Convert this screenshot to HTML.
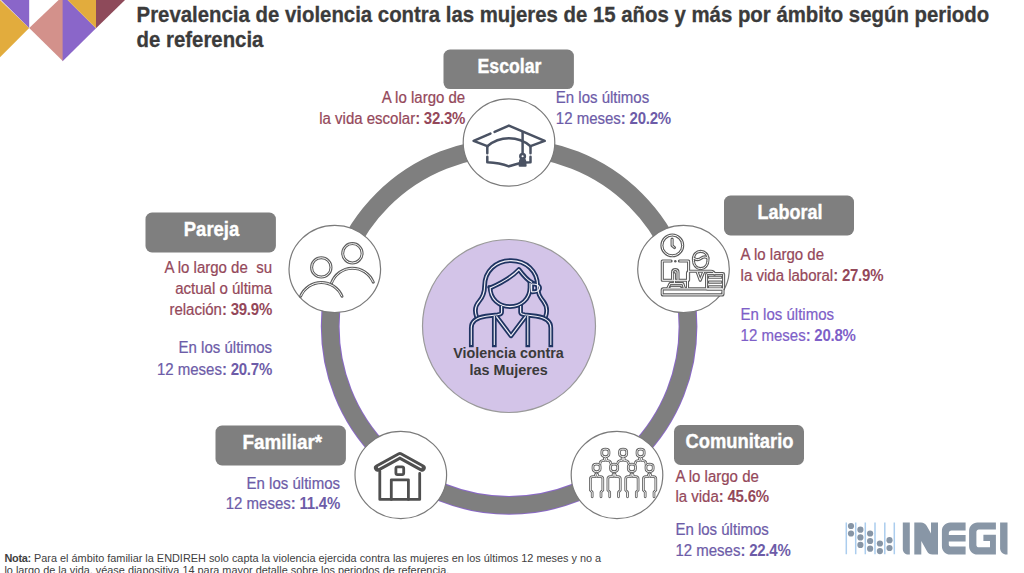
<!DOCTYPE html>
<html><head><meta charset="utf-8">
<style>
html,body{margin:0;padding:0;background:#fff;width:1024px;height:573px;overflow:hidden}
svg{display:block;font-family:"Liberation Sans",sans-serif}
.t{font-family:"Liberation Sans",sans-serif}
.m{fill:#94485a;stroke:#94485a;stroke-width:0.22px;font-size:15.8px}
.p{fill:#6d5ca8;stroke:#6d5ca8;stroke-width:0.22px;font-size:15.8px}
.pv{fill:#7e5fc8;stroke:#7e5fc8;stroke-width:0.22px;font-size:15.8px}
.lab{fill:#fff;stroke:#fff;stroke-width:0.35px;font-size:19.5px;font-weight:bold}
.b{font-weight:bold;stroke-width:0;letter-spacing:-0.25px}
</style></head>
<body>
<svg width="1024" height="573" viewBox="0 0 1024 573">
<!-- top-left triangles -->
<polygon points="0,0 29.2,28.1 0,57.2" fill="#e2ac3d"/>
<polygon points="1,0 29.2,0 29.2,28.1" fill="#8a66c9"/>
<polygon points="29.2,28.1 58.6,0 63,0 63,61.2" fill="#d3918b"/>
<polygon points="62.6,0 67.6,0 96,28.3 62.6,61.2" fill="#8a66c9"/>
<polygon points="67.6,0 96,0 96,28.3" fill="#e2ac3d"/>
<polygon points="96,0 125,0 96,28.3" fill="#8e4a5a"/>

<!-- title -->
<text class="t" x="136.6" y="21.5" font-size="21.5" font-weight="bold" fill="#3b3b3b" stroke="#3b3b3b" stroke-width="0.3" textLength="852.6" lengthAdjust="spacingAndGlyphs">Prevalencia de violencia contra las mujeres de 15 años y más por ámbito según periodo</text>
<text class="t" x="136.6" y="47.3" font-size="21.5" font-weight="bold" fill="#3b3b3b" stroke="#3b3b3b" stroke-width="0.3" textLength="126.8" lengthAdjust="spacingAndGlyphs">de referencia</text>

<!-- ring -->
<defs>
<clipPath id="lowc"><rect x="0" y="269" width="1024" height="304"/></clipPath>
<clipPath id="upc"><rect x="0" y="0" width="1024" height="269"/></clipPath>
</defs>
<circle cx="509.1" cy="326.5" r="178.9" fill="none" stroke="#8a68c8" stroke-width="18.8" clip-path="url(#lowc)"/>
<circle cx="509.1" cy="326.5" r="178.9" fill="none" stroke="#7f7f7f" stroke-width="16.8"/>
<circle cx="509.1" cy="326.5" r="178.9" fill="none" stroke="#7f7f7f" stroke-width="18.4" clip-path="url(#upc)"/>

<!-- center circle -->
<circle cx="509" cy="326" r="86.5" fill="#d3c4e8" stroke="#9a9a9a" stroke-width="1.2"/>

<!-- small circles -->
<g fill="#fff" stroke="#7a7a7a" stroke-width="1.2">
<ellipse cx="509" cy="142.5" rx="45.8" ry="43.6"/>
<ellipse cx="683.5" cy="269" rx="45.8" ry="43.6"/>
<ellipse cx="334.8" cy="269" rx="45.8" ry="43.6"/>
<ellipse cx="400.8" cy="475" rx="45.8" ry="43.6"/>
<ellipse cx="617" cy="475" rx="45.8" ry="43.6"/>
</g>


<!-- ===== ICONS ===== -->
<!-- Escolar cap -->
<g fill="none" stroke="#4a5263" stroke-width="2.5" stroke-linecap="round" stroke-linejoin="round">
<path d="M487.3,146.2 L473.6,140.9 L490.4,133.6 M494.6,131.9 L508.9,125.6 L544.7,140.9 L530.5,146.2"/>
<path d="M487.3,146.2 C494,140.5 502,138.2 508.9,138.2 C516,138.2 524,140.5 530.5,146.2"/>
<path d="M487.3,146.2 L487.3,153.2 M487.3,156.8 L487.3,162.2 C495,162.5 503,164 508.9,166.4 C512.5,165.2 516,163.9 519.6,163.2"/>
<path d="M525.8,162.6 L530.5,162.2 L530.5,156.8 M530.5,153.2 L530.5,146.2"/>
<path d="M522.6,132.6 L522.6,153.4"/>
<circle cx="522.6" cy="156.3" r="2.3"/>
<path d="M520.4,160.2 L524.8,160.2 L525.4,165.6 L519.8,165.6 Z" fill="#4a5263"/>
</g>

<!-- Woman icon -->
<g fill="none" stroke-linejoin="round">
<g stroke="#1f3462" stroke-width="4.7" stroke-linecap="square" id="wdark">
<path d="M476.5,316.5 C474.5,311 475,306 479,301.5 C483,297 484.6,293.5 484.6,286 C484.6,271 496,260.6 511,260.6 C526,260.6 537.6,271 537.6,286 C537.6,293.5 540,297 543.5,301.5 C547,306 547.5,311 545.6,316.5"/>
<path d="M490.1,287.5 C490.1,299 499,306.6 510,306.6 C521,306.6 530,299 530,287.5 L530,283"/>
<path d="M490.1,288 C498,284.5 511.5,277.5 518.9,269.5 C523,275 527,280 532,282.6"/>
<path d="M531.6,284 L531.6,291.8 C536.5,292 539.6,290.5 539.6,288 C539.6,285.5 536.5,283.8 531.6,284 Z"/>
<path d="M501.6,306 L501.6,312.3 C501.6,314 500,314.4 497.5,314.8 L486,316.2 C477,317.5 471.3,321 471.3,328 L471.3,345"/>
<path d="M520.6,306 L520.6,312.3 C520.6,314 522.2,314.4 524.7,314.8 L536.2,316.2 C545.2,317.5 550.8,321 550.8,328 L550.8,345"/>
<path d="M494.3,316 L494.3,345 M527.8,316 L527.8,345"/>
<path d="M496.4,316.4 L511,335.8 L525.7,316.4"/>
</g>
<g stroke="#f4f2f8" stroke-width="1.15" stroke-linecap="butt">
<path d="M476.5,316.5 C474.5,311 475,306 479,301.5 C483,297 484.6,293.5 484.6,286 C484.6,271 496,260.6 511,260.6 C526,260.6 537.6,271 537.6,286 C537.6,293.5 540,297 543.5,301.5 C547,306 547.5,311 545.6,316.5"/>
<path d="M490.1,287.5 C490.1,299 499,306.6 510,306.6 C521,306.6 530,299 530,287.5 L530,283"/>
<path d="M490.1,288 C498,284.5 511.5,277.5 518.9,269.5 C523,275 527,280 532,282.6"/>
<path d="M531.6,284 L531.6,291.8 C536.5,292 539.6,290.5 539.6,288 C539.6,285.5 536.5,283.8 531.6,284 Z"/>
<path d="M501.6,306 L501.6,312.3 C501.6,314 500,314.4 497.5,314.8 L486,316.2 C477,317.5 471.3,321 471.3,328 L471.3,345"/>
<path d="M520.6,306 L520.6,312.3 C520.6,314 522.2,314.4 524.7,314.8 L536.2,316.2 C545.2,317.5 550.8,321 550.8,328 L550.8,345"/>
<path d="M494.3,316 L494.3,345 M527.8,316 L527.8,345"/>
<path d="M496.4,316.4 L511,335.8 L525.7,316.4"/>
</g>
</g>

<!-- Pareja icon -->
<g fill="none">
<g stroke="#5e5e5e" stroke-width="3" stroke-linecap="round">
<circle cx="321.3" cy="267.4" r="9.7"/>
<circle cx="352.4" cy="253.3" r="9.7"/>
<path d="M331.4,283.2 A22.4,22.4 0 0 1 373.3,282.2"/>
<path d="M300.6,296.3 A22.4,22.4 0 0 1 342,296.3"/>
</g>
<g stroke="#fff" stroke-width="0.95">
<circle cx="321.3" cy="267.4" r="9.7"/>
<circle cx="352.4" cy="253.3" r="9.7"/>
<path d="M331.4,283.2 A22.4,22.4 0 0 1 373.3,282.2"/>
<path d="M300.6,296.3 A22.4,22.4 0 0 1 342,296.3"/>
</g>
</g>

<!-- Familiar house -->
<g fill="none" stroke="#4f4f4f" stroke-width="2.8" stroke-linejoin="round" stroke-linecap="round">
<path d="M379.8,471 L379.8,499.4 L419.7,499.4 L419.7,473.4"/>
<path d="M391.3,499.4 L391.3,479.8 L408.4,479.8 L408.4,499.4"/>
<rect x="395.9" y="466.8" width="7.8" height="7.8" rx="1.6"/>
<path d="M377.6,468 L399.9,455.7 L422.1,468" stroke-width="7.3"/>
</g>
<path d="M378.1,467.7 L399.9,455.6 L421.6,467.7" fill="none" stroke="#fff" stroke-width="1.4" stroke-linejoin="round"/>

<!-- Laboral icon -->
<g fill="none" stroke-linejoin="round" stroke-linecap="round">
<g stroke="#5c5c5c" stroke-width="3.1">
<circle cx="672.3" cy="245.4" r="10.4"/>
<path d="M672.1,239 L672.1,245.6 L674.5,247.6"/>
<path d="M671.1,261 L662.3,261 L662.3,280.3 L688.6,280.3 L688.6,261 L679.4,261"/>
<path d="M672.6,279.8 L672.6,272.2 C672.6,270.5 673.8,269.6 675.3,269.6 C676.8,269.6 678,270.5 678,272.2 L678,279.8"/>
<path d="M674.4,273.5 L674.4,283"/>
<path d="M667.8,288.2 L670,283.6 L682.8,283.6 L684.3,288.2"/>
<path d="M670.6,287.4 L680.4,287.4"/>
<rect x="662.2" y="288.9" width="60.8" height="6" rx="1"/>
<path d="M693.4,259.5 C693.4,254.5 696.5,251.4 700.7,251.4 C704.9,251.4 708,254.5 708,259.5 C708,265 705,268.6 700.7,268.6 C696.4,268.6 693.4,265 693.4,259.5 Z"/>
<path d="M694.2,258.4 C696.5,260 699,260 701.2,258.2 C703.2,256.6 705.6,256.6 707.8,258"/>
<path d="M687.5,288.2 L687.5,273 C687.5,271.8 688.5,271.2 690,271.2 L711,271.2 C713,271.2 714.2,272.5 714.6,274.2"/>
<path d="M697.1,271.8 L700.2,280.3 L703.7,271.8"/>
<rect x="706.6" y="273.6" width="17" height="15.4" rx="0.8"/>
<path d="M709,277.3 L721.3,277.3 M709,282.1 L721.3,282.1 M709,286.9 L721.3,286.9"/>
</g>
<g stroke="#fff" stroke-width="1" stroke-linecap="butt">
<circle cx="672.3" cy="245.4" r="10.4"/>
<path d="M672.1,239 L672.1,245.6 L674.5,247.6"/>
<path d="M671.1,261 L662.3,261 L662.3,280.3 L688.6,280.3 L688.6,261 L679.4,261"/>
<path d="M672.6,279.8 L672.6,272.2 C672.6,270.5 673.8,269.6 675.3,269.6 C676.8,269.6 678,270.5 678,272.2 L678,279.8"/>
<path d="M674.4,273.5 L674.4,283"/>
<path d="M667.8,288.2 L670,283.6 L682.8,283.6 L684.3,288.2"/>
<path d="M670.6,287.4 L680.4,287.4"/>
<rect x="662.2" y="288.9" width="60.8" height="6" rx="1"/>
<path d="M693.4,259.5 C693.4,254.5 696.5,251.4 700.7,251.4 C704.9,251.4 708,254.5 708,259.5 C708,265 705,268.6 700.7,268.6 C696.4,268.6 693.4,265 693.4,259.5 Z"/>
<path d="M694.2,258.4 C696.5,260 699,260 701.2,258.2 C703.2,256.6 705.6,256.6 707.8,258"/>
<path d="M687.5,288.2 L687.5,273 C687.5,271.8 688.5,271.2 690,271.2 L711,271.2 C713,271.2 714.2,272.5 714.6,274.2"/>
<path d="M697.1,271.8 L700.2,280.3 L703.7,271.8"/>
<rect x="706.6" y="273.6" width="17" height="15.4" rx="0.8"/>
<path d="M709,277.3 L721.3,277.3 M709,282.1 L721.3,282.1 M709,286.9 L721.3,286.9"/>
</g>
<circle cx="675.3" cy="261.3" r="1.2" fill="#5c5c5c"/>
</g>

<!-- Comunitario icon -->
<defs>
<g id="figf">
<path d="M-4.4,28.2 L-4.4,23.6 L-6.2,21.6 L-6.2,10.2 C-6.2,8.8 -5.4,8.1 -4,8.1 L-1.4,8.1 M4.4,28.2 L4.4,23.6 L6.2,21.6 L6.2,10.2 C6.2,8.8 5.4,8.1 4,8.1 L1.4,8.1"/>
<circle cx="0" cy="6.5" r="1.15"/>
<path d="M-3.6,-1.8 C-3.6,-3.9 -2.3,-4.4 0,-4.4 C2.3,-4.4 3.6,-3.9 3.6,-1.8 L3.6,0.2 C3.6,2.3 2.3,3 0,3 C-2.3,3 -3.6,2.3 -3.6,0.2 Z"/>
</g>
<g id="figb">
<path d="M-1.4,6.9 C-3.6,6.9 -5.2,7.6 -5.4,9.6 L-5.4,14 M1.4,6.9 C3.6,6.9 5.2,7.6 5.4,9.6 L5.4,14"/>
<circle cx="0" cy="5.4" r="1.15"/>
<path d="M-3.6,-1.8 C-3.6,-3.9 -2.3,-4.4 0,-4.4 C2.3,-4.4 3.6,-3.9 3.6,-1.8 L3.6,0.2 C3.6,2.3 2.3,3 0,3 C-2.3,3 -3.6,2.3 -3.6,0.2 Z"/>
</g>
<path id="figm" d="M-5.4,-1.5 C-5.4,-5 -3,-6 0,-6 C3,-6 5.4,-5 5.4,-1.5 L5.4,1 C5.4,3.5 4,4.6 2.6,5.2 L7.6,6.6 L7.6,21.6 L5.8,23.6 L5.8,29 L-5.8,29 L-5.8,23.6 L-7.6,21.6 L-7.6,6.6 L-2.6,5.2 C-4,4.6 -5.4,3.5 -5.4,1 Z"/>
</defs>
<g fill="none" stroke-linejoin="round" stroke-linecap="round">
<g stroke="#626262" stroke-width="2.7"><use href="#figb" x="605.4" y="453.6"/><use href="#figb" x="623.1" y="453.6"/><use href="#figb" x="640.6" y="453.6"/></g>
<g stroke="#fff" stroke-width="0.9"><use href="#figb" x="605.4" y="453.6"/><use href="#figb" x="623.1" y="453.6"/><use href="#figb" x="640.6" y="453.6"/></g>
<g fill="#fff" stroke="none"><use href="#figm" x="596.6" y="468.6"/><use href="#figm" x="614.1" y="468.6"/><use href="#figm" x="631.9" y="468.6"/><use href="#figm" x="649.6" y="468.6"/></g>
<g stroke="#626262" stroke-width="2.7"><use href="#figf" x="596.6" y="468.6"/><use href="#figf" x="614.1" y="468.6"/><use href="#figf" x="631.9" y="468.6"/><use href="#figf" x="649.6" y="468.6"/></g>
<g stroke="#fff" stroke-width="0.9"><use href="#figf" x="596.6" y="468.6"/><use href="#figf" x="614.1" y="468.6"/><use href="#figf" x="631.9" y="468.6"/><use href="#figf" x="649.6" y="468.6"/></g>
</g>

<!-- INEGI logo -->
<g stroke="#abcdee" stroke-width="1.5">
<path d="M846.3,522.5 V554.3 M855.7,522.5 V554.3 M865.3,522.5 V554.3 M875,522.5 V554.3 M884.8,522.5 V554.3 M894.3,522.5 V554.3"/>
</g>
<g fill="#8795a5">
<circle cx="851" cy="526" r="3.1"/><circle cx="851" cy="533.5" r="3.1"/>
<circle cx="860.4" cy="529.7" r="3.1"/><circle cx="860.4" cy="537.4" r="3.1"/><circle cx="860.4" cy="544.9" r="3.1"/>
<circle cx="870.1" cy="533.5" r="3.1"/><circle cx="870.1" cy="541" r="3.1"/><circle cx="870.1" cy="548.7" r="3.1"/>
<circle cx="879.9" cy="543.5" r="3.1"/><circle cx="879.9" cy="551.1" r="3.1"/>
<circle cx="889.5" cy="540.2" r="3.1"/><circle cx="889.5" cy="548" r="3.1"/>
</g>
<g fill="#8896a6">
<path d="M902.8,522.5 H909.8 V554.6 H908.4 C905.3,554.6 902.8,552.1 902.8,549 Z"/>
<path d="M914.3,522.5 H921 C923.5,522.5 925.5,523.8 926.8,526 L931,533.5 V522.5 H938 V554.6 H932.5 C930,554.6 928.2,553.4 927,551.3 L921.3,541 V554.6 H914.3 Z"/>
<path d="M950.3,522.5 H965.6 V530.6 H951.5 C950,530.6 948.8,531.6 948.8,533.2 V535.1 H965.6 V541.4 H948.8 V544.4 C948.8,545.8 949.8,546.6 951.2,546.6 H965.6 V554.6 H950.3 C945.6,554.6 941.9,550.9 941.9,546.2 V530.9 C941.9,526.2 945.6,522.5 950.3,522.5 Z"/>
<path d="M977.5,522.5 H995.9 V529.5 H978.8 C977.5,529.5 976.4,530.6 976.4,531.9 V544.9 C976.4,546.3 977.5,547.3 978.8,547.3 H990 V541 H983.4 V534.7 H995.9 V554.6 H977.5 C972.8,554.6 969.1,550.9 969.1,546.2 V530.9 C969.1,526.2 972.8,522.5 977.5,522.5 Z"/>
<path d="M1000.1,522.5 H1007.5 V554.6 H1006.4 C1003,554.6 1000.1,551.8 1000.1,548.3 Z"/>
</g>

<!-- label boxes -->
<g fill="#7f7f7f">
<rect x="443.5" y="49.5" width="130.4" height="39.6" rx="6.5"/>
<rect x="724" y="195.5" width="130" height="40" rx="6.5"/>
<rect x="145.5" y="212.5" width="130.4" height="40" rx="6.5"/>
<rect x="215.5" y="425.5" width="130.4" height="40" rx="6.5"/>
<rect x="674" y="425" width="130" height="40" rx="6.5"/>
</g>
<text class="t lab" x="477.5" y="72.5" textLength="64" lengthAdjust="spacingAndGlyphs">Escolar</text>
<text class="t lab" x="757.5" y="219" textLength="65" lengthAdjust="spacingAndGlyphs">Laboral</text>
<text class="t lab" x="183.8" y="235.9" textLength="55.5" lengthAdjust="spacingAndGlyphs">Pareja</text>
<text class="t lab" x="242.4" y="449" textLength="79.8" lengthAdjust="spacingAndGlyphs">Familiar*</text>
<text class="t lab" x="685.5" y="447.8" textLength="108" lengthAdjust="spacingAndGlyphs">Comunitario</text>

<!-- Escolar texts -->
<text class="t m" transform="translate(465.2,103.3) scale(0.95,1)" x="0" y="0" text-anchor="end">A lo largo de</text>
<text class="t m" transform="translate(465.2,124.4) scale(0.95,1)" x="0" y="0" text-anchor="end">la vida escolar<tspan class="b">: 32.3%</tspan></text>
<text class="t p" transform="translate(555.8,103.3) scale(0.95,1)" x="0" y="0">En los últimos</text>
<text class="t p" transform="translate(555.8,124.4) scale(0.95,1)" x="0" y="0">12 meses<tspan class="b">: 20.2%</tspan></text>

<!-- Laboral texts -->
<text class="t m" transform="translate(740.6,260.2) scale(0.95,1)" x="0" y="0">A lo largo de</text>
<text class="t m" transform="translate(740.6,280.7) scale(0.95,1)" x="0" y="0">la vida laboral<tspan class="b">: 27.9%</tspan></text>
<text class="t pv" transform="translate(740.6,320) scale(0.95,1)" x="0" y="0">En los últimos</text>
<text class="t pv" transform="translate(740.6,340.6) scale(0.95,1)" x="0" y="0">12 meses<tspan class="b">: 20.8%</tspan></text>

<!-- Pareja texts -->
<text class="t m" transform="translate(272,273.1) scale(0.95,1)" x="0" y="0" text-anchor="end">A lo largo de&#160; su</text>
<text class="t m" transform="translate(272,293.5) scale(0.95,1)" x="0" y="0" text-anchor="end">actual o última</text>
<text class="t m" transform="translate(272,314.9) scale(0.95,1)" x="0" y="0" text-anchor="end">relación<tspan class="b">: 39.9%</tspan></text>
<text class="t p" transform="translate(272,353.4) scale(0.95,1)" x="0" y="0" text-anchor="end">En los últimos</text>
<text class="t p" transform="translate(272,374.5) scale(0.95,1)" x="0" y="0" text-anchor="end">12 meses<tspan class="b">: 20.7%</tspan></text>

<!-- Familiar texts -->
<text class="t p" transform="translate(340,488.8) scale(0.95,1)" x="0" y="0" text-anchor="end">En los últimos</text>
<text class="t p" transform="translate(340,509.4) scale(0.95,1)" x="0" y="0" text-anchor="end">12 meses<tspan class="b">: 11.4%</tspan></text>

<!-- Comunitario texts -->
<text class="t m" transform="translate(675.4,481.5) scale(0.95,1)" x="0" y="0">A lo largo de</text>
<text class="t m" transform="translate(675.4,501.6) scale(0.95,1)" x="0" y="0">la vida<tspan class="b">: 45.6%</tspan></text>
<text class="t p" transform="translate(675.4,535.1) scale(0.95,1)" x="0" y="0">En los últimos</text>
<text class="t p" transform="translate(675.4,555.6) scale(0.95,1)" x="0" y="0">12 meses<tspan class="b">: 22.4%</tspan></text>

<!-- center text -->
<text class="t" x="453.3" y="358.4" font-size="14.6" font-weight="bold" fill="#3a3a3a" textLength="110.4" lengthAdjust="spacingAndGlyphs">Violencia contra</text>
<text class="t" x="469.4" y="374.5" font-size="14.6" font-weight="bold" fill="#3a3a3a" textLength="78.4" lengthAdjust="spacingAndGlyphs">las Mujeres</text>

<!-- footer -->
<text class="t" x="4.4" y="561.9" font-size="10.9" fill="#404040"><tspan class="b">Nota:</tspan> Para el ámbito familiar la ENDIREH solo capta la violencia ejercida contra las mujeres en los últimos 12 meses y no a</text>
<text class="t" x="4.4" y="574.4" font-size="10.9" fill="#404040">lo largo de la vida, véase diapositiva 14 para mayor detalle sobre los periodos de referencia.</text>

</svg>
</body></html>
